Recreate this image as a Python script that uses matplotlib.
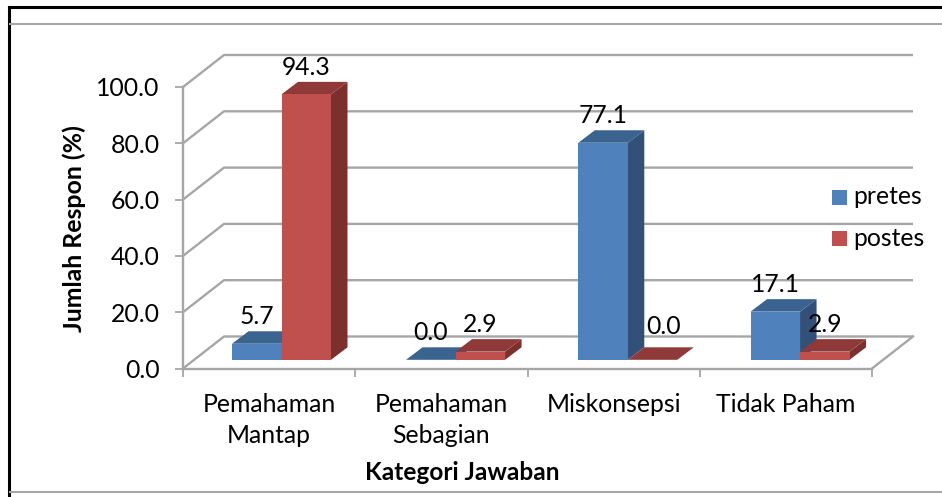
import matplotlib
matplotlib.use('Agg')
import matplotlib.pyplot as plt
from matplotlib.patches import Polygon, Rectangle

plt.rcParams['font.family'] = ['Lato', 'DejaVu Sans']

categories = ['Pemahaman\nMantap', 'Pemahaman\nSebagian', 'Miskonsepsi', 'Tidak Paham']
pretes = [5.7, 0.0, 77.1, 17.1]
postes = [94.3, 2.9, 0.0, 2.9]
y_ticks = [0, 20, 40, 60, 80, 100]

W, H = 942, 497
GREY = '#a6a6a6'
FS = 17.8
# front, side and top shades of each series
BLUE = ('#4f81bd', '#325078', '#3a6390')
RED = ('#c0504d', '#7c302e', '#8f3a38')

fig = plt.figure(figsize=(W / 100, H / 100), dpi=100)
# axes box = front plane of the 3d chart, in pixels
ax = fig.add_axes([183 / W, 1 - 368.5 / H, 689 / W, 281.5 / H])
ax.set_xlim(0, 4)
ax.set_ylim(0, 100)
ax.patch.set_alpha(0)

px = 4 / 689      # one pixel in x units
py = 100 / 281.5  # one pixel in y units

# back wall and floor
depth_x, depth_y = 41 * px, 32 * py
for t in y_ticks:
    ax.plot([0, depth_x, 4 + depth_x], [t, t + depth_y, t + depth_y],
            color=GREY, lw=1.7, clip_on=False, zorder=1, solid_capstyle='butt')
ax.plot([4, 4 + depth_x], [0, depth_y], color=GREY, lw=1.7, clip_on=False, zorder=1)

for s in ['top', 'right']:
    ax.spines[s].set_visible(False)
for s in ['left', 'bottom']:
    ax.spines[s].set_color(GREY)
    ax.spines[s].set_linewidth(1.7)
    ax.spines[s].set_zorder(2)

ax.set_xticks(range(5))
ax.set_xticklabels([])
ax.set_xticks([i + 0.5 for i in range(4)], categories, minor=True)
ax.tick_params(axis='x', which='major', length=6, width=1.3, color=GREY)
ax.tick_params(axis='x', which='minor', length=0, labelsize=FS, pad=17.5)
ax.set_yticks(y_ticks, [f'{t:.1f}' for t in y_ticks])
ax.tick_params(axis='y', length=6, width=1.3, color=GREY, labelsize=FS, pad=11)
for lab in ax.get_xticklabels(minor=True):
    lab.set_linespacing(1.42)


def bar3d(x, val, colors):
    w = 49.5 * px
    base = 8.7 * py
    dx, dy = 16.5 * px, 12.5 * py
    top = base + val
    # side, top, front
    ax.add_patch(Polygon([(x + w, base), (x + w + dx, base + dy), (x + w + dx, top + dy), (x + w, top)],
                         fc=colors[1], ec='none', zorder=3, clip_on=False))
    ax.add_patch(Polygon([(x, top), (x + dx, top + dy), (x + w + dx, top + dy), (x + w, top)],
                         fc=colors[2], ec='none', zorder=3, clip_on=False))
    ax.add_patch(Rectangle((x, base), w, val, fc=colors[0], ec='none', zorder=4))


for i in range(4):
    left = i + 49 * px + (1.8 * px if i else 0)
    bar3d(left, pretes[i], BLUE)
    bar3d(left + 49.5 * px, postes[i], RED)
    for j, (x, v) in enumerate(((left, pretes[i]), (left + 49.5 * px, postes[i]))):
        # the 0.0 of postes in Miskonsepsi sits off to the side in the original
        nudge_x, nudge_y = (11, 6) if (i, j) == (2, 1) else (0, 0)
        ax.text(x + (25 + nudge_x) * px, v + (8.7 + 27 + nudge_y) * py, f'{v:.1f}', ha='center', va='center',
                fontsize=FS, color='black', zorder=6, clip_on=False)

ax.set_ylabel('Jumlah Respon (%)', fontsize=17.9, fontweight='bold')
ax.yaxis.set_label_coords((86 - 183) / 689, (368.5 - 229) / 281.5)
ax.set_xlabel('Kategori Jawaban', fontsize=17.6, fontweight='bold')
ax.xaxis.set_label_coords((462 - 183) / 689, (368.5 - 473) / 281.5)
ax.xaxis.label.set_va('center')

# legend, placed by hand like the original
for y, name, c in ((197, 'pretes', BLUE[0]), (238, 'postes', RED[0])):
    fig.patches.append(Rectangle((832 / W, 1 - (y + 7.5) / H), 15 / W, 15 / H, fc=c, ec='none',
                                 transform=fig.transFigure))
    fig.text(853 / W, 1 - y / H, name, fontsize=FS, va='center', ha='left')

# page frame around the picture
black = dict(color='black', lw=2.2, transform=fig.transFigure)
fig.add_artist(plt.Line2D([9 / W, 9 / W], [0, 1 - 7 / H], **black))
fig.add_artist(plt.Line2D([9 / W, 1], [1 - 7 / H, 1 - 7 / H], **black))
fig.add_artist(plt.Line2D([10 / W, 1], [1 - 23.5 / H, 1 - 23.5 / H], color=GREY, lw=1.5, transform=fig.transFigure))
fig.add_artist(plt.Line2D([10 / W, 1], [1 - 491.5 / H, 1 - 491.5 / H], color=GREY, lw=1.5, transform=fig.transFigure))

fig.savefig('out.png', dpi=100)
